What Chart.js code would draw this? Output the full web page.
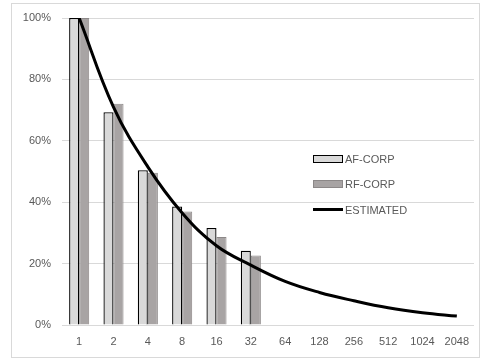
<!DOCTYPE html>
<html>
<head>
<meta charset="utf-8">
<script src="https://cdn.jsdelivr.net/npm/chart.js"></script>
<style>
  html, body { margin: 0; padding: 0; background: #fff; }
  #wrap { position: relative; width: 483px; height: 361px; }
  #frame { position: absolute; left: 11px; top: 3px; width: 469px; height: 355px; border: 1px solid #d9d9d9; box-sizing: border-box; }
  #legend { position: absolute; left: 313px; top: 146px; font: 11px "Liberation Sans", sans-serif; color: #595959; }
  .item { display: flex; align-items: center; height: 25.5px; }
  .sw { width: 30px; height: 8px; box-sizing: border-box; margin-right: 2px; }
</style>
</head>
<body>
<div id="wrap">
  <div id="frame"></div>
  <canvas id="chart" width="483" height="361"></canvas>
  <div id="legend"></div>
</div>
<script>
  const categories = ["1", "2", "4", "8", "16", "32", "64", "128", "256", "512", "1024", "2048"];
  const afCorp = [100, 69.3, 50.4, 38.6, 31.6, 24.2, null, null, null, null, null, null];
  const rfCorp = [100, 72.1, 49.6, 37.0, 28.7, 22.6, null, null, null, null, null, null];
  const estimated = [100, 71, 51.5, 36.5, 25.8, 19.5, 14.2, 10.6, 7.9, 5.6, 4.0, 2.9];

  const grey = "#595959";
  const tickFont = { family: "Liberation Sans", size: 11 };

  const ctx = document.getElementById("chart").getContext("2d");
  const chart = new Chart(ctx, {
    type: "bar",
    data: {
      labels: categories,
      datasets: [
        {
          type: "line",
          label: "ESTIMATED",
          data: estimated,
          borderColor: "#000",
          backgroundColor: "#000",
          borderWidth: 3,
          pointRadius: 0,
          tension: 0.4,
          order: 0,
        },
        {
          label: "AF-CORP",
          data: afCorp,
          backgroundColor: "#d9d9d9",
          borderColor: "#000",
          borderWidth: 1.3,
          order: 1,
        },
        {
          label: "RF-CORP",
          data: rfCorp,
          backgroundColor: "#a8a4a4",
          borderColor: "#8c8888",
          borderWidth: 1,
          order: 1,
        },
      ],
    },
    options: {
      responsive: false,
      animation: false,
      layout: { padding: { left: 0, right: 9, top: 18, bottom: 0 } },
      datasets: { bar: { categoryPercentage: 0.585, barPercentage: 1 } },
      plugins: { legend: { display: false }, tooltip: { enabled: false } },
      scales: {
        x: {
          grid: { display: false, drawTicks: false },
          border: { display: false },
          ticks: { color: grey, font: tickFont, padding: 10, maxRotation: 0, autoSkip: false },
          afterFit: (s) => { s.height = 36; },
        },
        y: {
          min: 0,
          max: 100,
          ticks: { stepSize: 20, color: grey, font: tickFont, padding: 11, callback: (v) => v + "%" },
          grid: { color: "#d9d9d9", drawTicks: false },
          border: { display: false },
          afterFit: (s) => { s.width = 62; },
        },
      },
    },
  });

  // legend in the middle of the plot, like the original
  const legend = document.getElementById("legend");
  const legendOrder = [1, 2, 0];
  legendOrder.forEach((i) => {
    const ds = chart.data.datasets[i];
    const row = document.createElement("div");
    row.className = "item";
    const sw = document.createElement("div");
    sw.className = "sw";
    if (ds.type === "line") {
      sw.style.height = "3px";
      sw.style.background = ds.borderColor;
    } else {
      sw.style.background = ds.backgroundColor;
      sw.style.border = "1.3px solid " + ds.borderColor;
    }
    const txt = document.createElement("span");
    txt.textContent = ds.label;
    row.appendChild(sw);
    row.appendChild(txt);
    legend.appendChild(row);
  });
</script>
</body>
</html>
